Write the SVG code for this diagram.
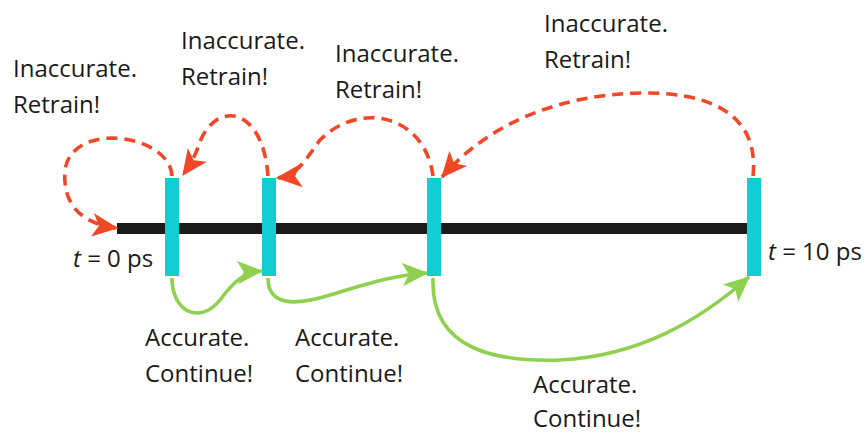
<svg xmlns="http://www.w3.org/2000/svg" width="867" height="434" viewBox="0 0 867 434">
<style>
.t{font-family:"Open Sans","Noto Sans","Liberation Sans",sans-serif;font-size:24px;fill:#1a1a1a}
.bar{fill:#12CDD4}
.red{fill:none;stroke:#F24726;stroke-width:3.6;stroke-dasharray:11 7}
.grn{fill:none;stroke:#8FD14F;stroke-width:3.6}
</style>
<defs>
<marker id="ar" markerUnits="userSpaceOnUse" viewBox="0 0 20 20" markerWidth="26" markerHeight="26" refX="19" refY="10" orient="auto">
<path d="M0,1 L20,10 L0,19 L5,10 z" fill="#F24726"/>
</marker>
<marker id="ag" markerUnits="userSpaceOnUse" viewBox="0 0 20 20" markerWidth="26" markerHeight="26" refX="19" refY="10" orient="auto">
<path d="M0,1 L20,10 L0,19 L5,10 z" fill="#8FD14F"/>
</marker>
</defs>
<g id="timeline">
<rect x="117" y="223" width="640" height="11" fill="#1a1a1a"/>
<text class="t" x="73" y="267"><tspan font-style="italic">t</tspan> = 0 ps</text>
<text class="t" x="768" y="260"><tspan font-style="italic">t</tspan> = 10 ps</text>
</g>
<g id="step1"><rect class="bar" x="165" y="178" width="14" height="98"/></g>
<g id="step2"><rect class="bar" x="262" y="178" width="14" height="98"/></g>
<g id="step3"><rect class="bar" x="427" y="178" width="14" height="98"/></g>
<g id="step4"><rect class="bar" x="747" y="178" width="14" height="98"/></g>
<g id="connectors">
<path class="red" d="M172,176 C170,134 72,120 65,170 C62,208 85,224 117,228" marker-end="url(#ar)"/>
<path class="red" d="M268,176 C263,104 212,98 197,150 C192,162 188,168 183,175" marker-end="url(#ar)"/>
<path class="red" d="M433,176 C425,115 360,100 320,140 C305,160 298,176 277,178" marker-end="url(#ar)"/>
<path class="red" d="M753,176 C760,108 700,92 640,93 C560,95 490,122 442,177" marker-end="url(#ar)"/>
<path class="grn" d="M172,278 C172,312 200,325 220,300 C235,280 245,272 262,271" marker-end="url(#ag)"/>
<path class="grn" d="M268,278 C268,306 295,306 330,295 C370,283 395,275 427,273" marker-end="url(#ag)"/>
<path class="grn" d="M433,278 C430,352 500,362 560,360 C640,356 700,320 749,277" marker-end="url(#ag)"/>
</g>
<g id="labels">
<text class="t" x="13" y="77">Inaccurate.<tspan x="13" dy="36">Retrain!</tspan></text>
<text class="t" x="181" y="49">Inaccurate.<tspan x="181" dy="36">Retrain!</tspan></text>
<text class="t" x="335" y="62">Inaccurate.<tspan x="335" dy="36">Retrain!</tspan></text>
<text class="t" x="544" y="32">Inaccurate.<tspan x="544" dy="36">Retrain!</tspan></text>
<text class="t" x="145" y="346">Accurate.<tspan x="145" dy="36">Continue!</tspan></text>
<text class="t" x="295" y="346">Accurate.<tspan x="295" dy="36">Continue!</tspan></text>
<text class="t" x="533" y="393">Accurate.<tspan x="533" dy="34">Continue!</tspan></text>
</g>
</svg>
